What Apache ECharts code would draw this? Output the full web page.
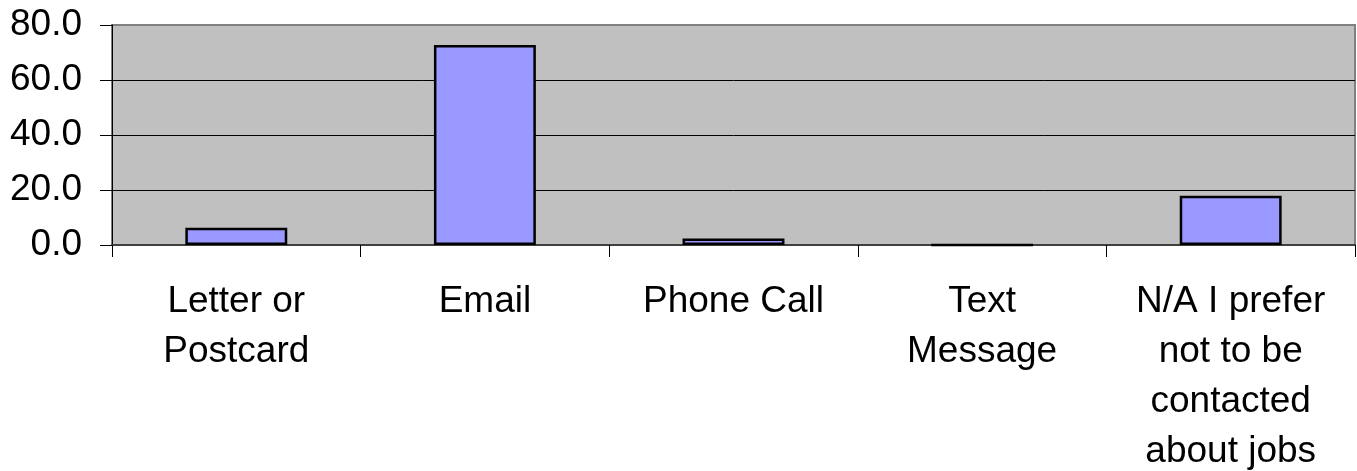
<!DOCTYPE html>
<html>
<head>
<meta charset="utf-8">
<script src="https://cdn.jsdelivr.net/npm/echarts@6/dist/echarts.min.js"></script>
<style>html,body{margin:0;padding:0;background:#fff;}#c{width:1357px;height:471px;}</style>
</head>
<body>
<div id="c"></div>
<script>
var categories = ["Letter or\nPostcard", "Email", "Phone Call", "Text\nMessage", "N/A I prefer\nnot to be\ncontacted\nabout jobs"];
var values = [6.3, 72.7, 2.4, 0, 17.9];
var yTicks = [0, 20, 40, 60, 80];

var chart = echarts.init(document.getElementById('c'));
chart.setOption({
  animation: false,
  textStyle: { fontFamily: 'Liberation Sans, Arial, sans-serif' },
  grid: {
    left: 112, right: 2, top: 25, height: 220,
    outerBoundsMode: 'none', containLabel: false,
    show: true, backgroundColor: '#C0C0C0', borderColor: '#808080', borderWidth: 2
  },
  xAxis: {
    type: 'category',
    data: categories,
    axisLine: { lineStyle: { color: '#404040', width: 2 } },
    axisTick: { show: true, length: 12, lineStyle: { color: '#000', width: 1 } },
    axisLabel: { color: '#000', fontSize: 37, lineHeight: 50, margin: 32, interval: 0 }
  },
  yAxis: {
    type: 'value',
    min: yTicks[0], max: yTicks[yTicks.length - 1], interval: 20,
    axisLine: { show: true, lineStyle: { color: '#000', width: 1 } },
    axisTick: { show: true, length: 12, lineStyle: { color: '#000', width: 1 } },
    axisLabel: { color: '#000', fontSize: 37, margin: 30, formatter: function (v) { return v.toFixed(1); } },
    splitLine: { show: true, showMaxLine: false, showMinLine: false, lineStyle: { color: '#000', width: 1 } }
  },
  series: [{
    type: 'bar',
    data: values,
    barCategoryGap: '59%',
    itemStyle: { color: '#9999FF', borderColor: '#000', borderWidth: 2.5 }
  }]
});
</script>
</body>
</html>
